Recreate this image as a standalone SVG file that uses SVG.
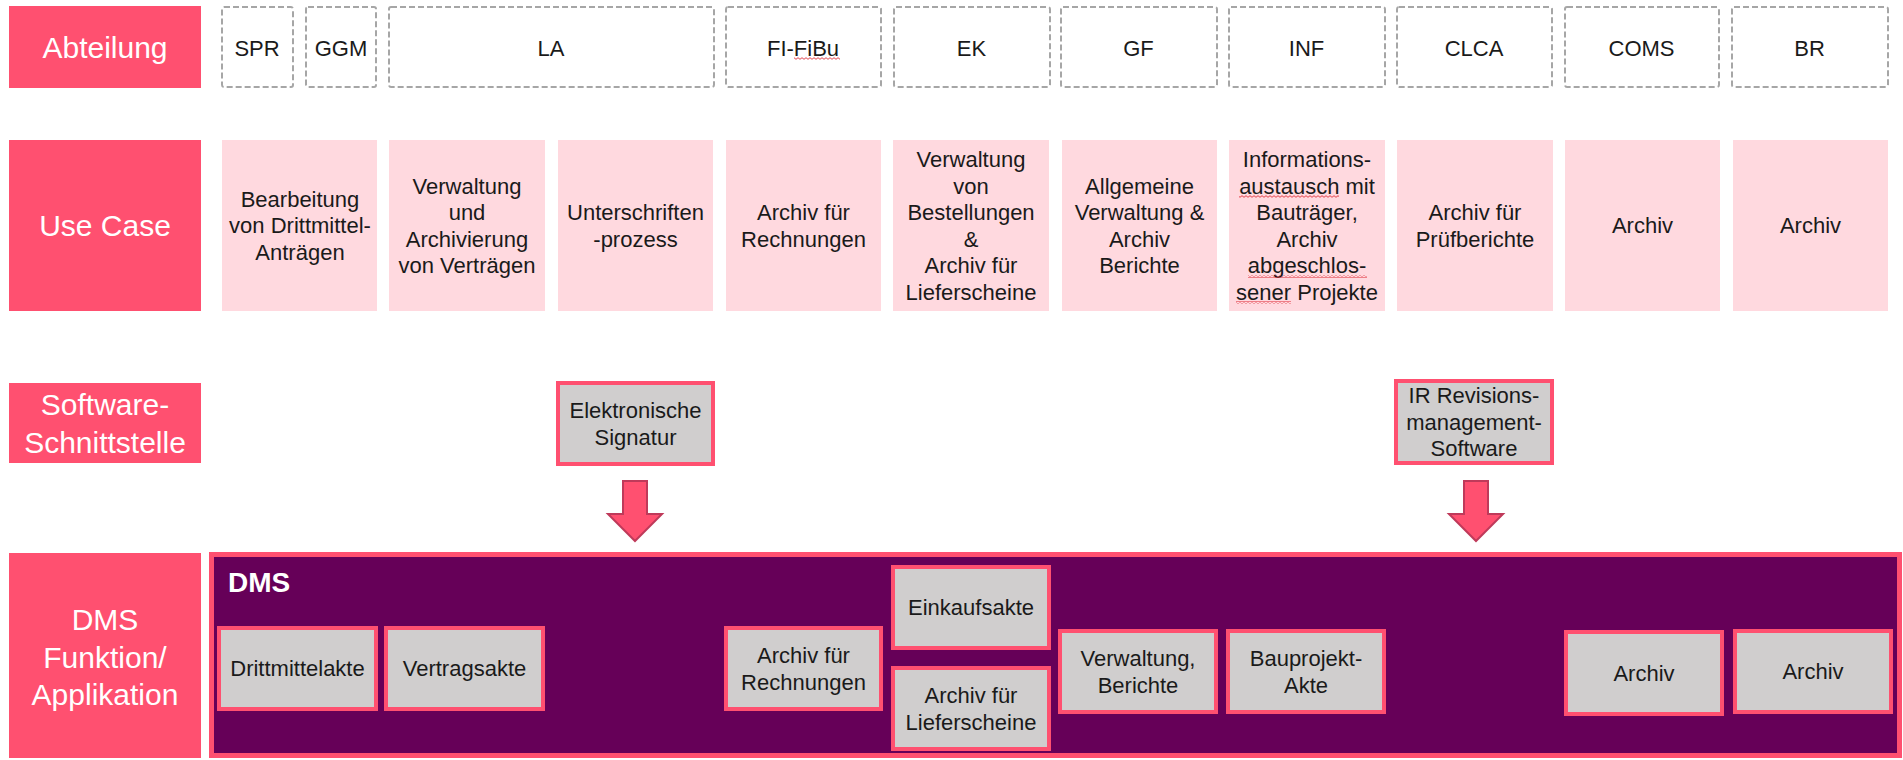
<svg xmlns="http://www.w3.org/2000/svg" width="1903" height="760" viewBox="0 0 1903 760">
<style>
text{font-family:"Liberation Sans",Arial,sans-serif}
.lbl{fill:#FF5070}
.lt{font-size:30px;fill:#fff;text-anchor:middle}
.dash{fill:#fff;stroke:#A6A6A6;stroke-width:2;stroke-dasharray:6 3}
.pk{fill:#FFD9DF}
.t{font-size:22px;fill:#1a1a1a;text-anchor:middle}
.box{fill:#D0CECE;stroke:#FF5070;stroke-width:4}
.dms{fill:#660058;stroke:#FF5070;stroke-width:5}
.dmst{font-size:28px;font-weight:bold;fill:#fff}
.arrow{fill:#FF5070;stroke:#BF3A5A;stroke-width:2}
.spell{fill:url(#wavy)}
</style>
<defs>
<pattern id="wavy" width="4" height="3" patternUnits="userSpaceOnUse"><path d="M0 2.3 L2 0.7 L4 2.3" fill="none" stroke="#E0303A" stroke-width="0.9"/></pattern>
</defs>
<rect width="1903" height="760" fill="#fff"/>

<g id="row-labels">
<g id="lbl-abteilung"><rect class="lbl" x="9" y="6" width="192" height="82"/><text class="lt" x="105" y="58">Abteilung</text></g>
<g id="lbl-usecase"><rect class="lbl" x="9" y="140" width="192" height="171"/><text class="lt" x="105" y="236">Use Case</text></g>
<g id="lbl-software"><rect class="lbl" x="9" y="383" width="192" height="80"/><text class="lt" x="105" y="415">Software-<tspan x="105" dy="38">Schnittstelle</tspan></text></g>
<g id="lbl-dms"><rect class="lbl" x="9" y="553" width="192" height="205"/><text class="lt" x="105" y="630">DMS<tspan x="105" dy="37.5">Funktion/</tspan><tspan x="105" dy="37.5">Applikation</tspan></text></g>
</g>

<g id="abteilungen">
<g id="abt-spr"><rect class="dash" x="222" y="7" width="71" height="80" rx="2"/><text class="t" x="257" y="56">SPR</text></g>
<g id="abt-ggm"><rect class="dash" x="306" y="7" width="70" height="80" rx="2"/><text class="t" x="341" y="56">GGM</text></g>
<g id="abt-la"><rect class="dash" x="389" y="7" width="325" height="80" rx="2"/><text class="t" x="551" y="56">LA</text></g>
<g id="abt-fi"><rect class="dash" x="726" y="7" width="155" height="80" rx="2"/><text class="t" x="803" y="56">FI-FiBu</text><rect class="spell" x="794" y="57" width="46" height="3"/></g>
<g id="abt-ek"><rect class="dash" x="894" y="7" width="156" height="80" rx="2"/><text class="t" x="971.5" y="56">EK</text></g>
<g id="abt-gf"><rect class="dash" x="1061" y="7" width="156" height="80" rx="2"/><text class="t" x="1138.5" y="56">GF</text></g>
<g id="abt-inf"><rect class="dash" x="1229" y="7" width="156" height="80" rx="2"/><text class="t" x="1306.5" y="56">INF</text></g>
<g id="abt-clca"><rect class="dash" x="1397" y="7" width="155" height="80" rx="2"/><text class="t" x="1474" y="56">CLCA</text></g>
<g id="abt-coms"><rect class="dash" x="1565" y="7" width="154" height="80" rx="2"/><text class="t" x="1641.5" y="56">COMS</text></g>
<g id="abt-br"><rect class="dash" x="1732" y="7" width="156" height="80" rx="2"/><text class="t" x="1809.5" y="56">BR</text></g>
</g>

<g id="usecases">
<g id="uc-1"><rect class="pk" x="222" y="140" width="155" height="171"/><text class="t" x="300" y="206.9">Bearbeitung<tspan x="300" dy="26.5">von Drittmittel-</tspan><tspan x="300" dy="26.5">Anträgen</tspan></text></g>
<g id="uc-2"><rect class="pk" x="389" y="140" width="156" height="171"/><text class="t" x="467" y="193.6">Verwaltung<tspan x="467" dy="26.5">und</tspan><tspan x="467" dy="26.5">Archivierung</tspan><tspan x="467" dy="26.5">von Verträgen</tspan></text></g>
<g id="uc-3"><rect class="pk" x="558" y="140" width="155" height="171"/><text class="t" x="635.5" y="220.1">Unterschriften<tspan x="635.5" dy="26.5">-prozess</tspan></text></g>
<g id="uc-4"><rect class="pk" x="726" y="140" width="155" height="171"/><text class="t" x="803.5" y="220.1">Archiv für<tspan x="803.5" dy="26.5">Rechnungen</tspan></text></g>
<g id="uc-5"><rect class="pk" x="893" y="140" width="156" height="171"/><text class="t" x="971" y="167.1">Verwaltung<tspan x="971" dy="26.5">von</tspan><tspan x="971" dy="26.5">Bestellungen</tspan><tspan x="971" dy="26.5">&amp;</tspan><tspan x="971" dy="26.5">Archiv für</tspan><tspan x="971" dy="26.5">Lieferscheine</tspan></text></g>
<g id="uc-6"><rect class="pk" x="1062" y="140" width="155" height="171"/><text class="t" x="1139.5" y="193.6">Allgemeine<tspan x="1139.5" dy="26.5">Verwaltung &amp;</tspan><tspan x="1139.5" dy="26.5">Archiv</tspan><tspan x="1139.5" dy="26.5">Berichte</tspan></text></g>
<g id="uc-7"><rect class="pk" x="1229" y="140" width="156" height="171"/><text class="t" x="1307" y="167.1">Informations-<tspan x="1307" dy="26.5">austausch mit</tspan><tspan x="1307" dy="26.5">Bauträger,</tspan><tspan x="1307" dy="26.5">Archiv</tspan><tspan x="1307" dy="26.5">abgeschlos-</tspan><tspan x="1307" dy="26.5">sener Projekte</tspan></text>
<rect class="spell" x="1239" y="195" width="100" height="3"/><rect class="spell" x="1248" y="275" width="119" height="3"/><rect class="spell" x="1236" y="301" width="55" height="3"/></g>
<g id="uc-8"><rect class="pk" x="1397" y="140" width="156" height="171"/><text class="t" x="1475" y="220.1">Archiv für<tspan x="1475" dy="26.5">Prüfberichte</tspan></text></g>
<g id="uc-9"><rect class="pk" x="1565" y="140" width="155" height="171"/><text class="t" x="1642.5" y="233.4">Archiv</text></g>
<g id="uc-10"><rect class="pk" x="1733" y="140" width="155" height="171"/><text class="t" x="1810.5" y="233.4">Archiv</text></g>
</g>

<g id="software">
<g id="sw-signatur"><rect class="box" x="558" y="383" width="155" height="81"/><text class="t" x="635.5" y="418.2">Elektronische<tspan x="635.5" dy="26.5">Signatur</tspan></text></g>
<g id="sw-ir"><rect class="box" x="1396" y="381" width="156" height="82"/><text class="t" x="1474" y="403.4">IR Revisions-<tspan x="1474" dy="26.5">management-</tspan><tspan x="1474" dy="26.5">Software</tspan></text></g>
</g>

<g id="dms">
<rect class="dms" x="211.5" y="554.5" width="1688" height="201"/>
<text class="dmst" x="228" y="592">DMS</text>
</g>

<g id="dms-nodes">
<g id="n-drittmittelakte"><rect class="box" x="219" y="628" width="157" height="81"/><text class="t" x="297.5" y="676.4">Drittmittelakte</text></g>
<g id="n-vertragsakte"><rect class="box" x="386" y="628" width="157" height="81"/><text class="t" x="464.5" y="676.4">Vertragsakte</text></g>
<g id="n-rechnungen"><rect class="box" x="726" y="628" width="155" height="81"/><text class="t" x="803.5" y="663.1">Archiv für<tspan x="803.5" dy="26.5">Rechnungen</tspan></text></g>
<g id="n-einkaufsakte"><rect class="box" x="893" y="567" width="156" height="81"/><text class="t" x="971" y="615.4">Einkaufsakte</text></g>
<g id="n-lieferscheine"><rect class="box" x="893" y="668" width="156" height="81"/><text class="t" x="971" y="703.2">Archiv für<tspan x="971" dy="26.5">Lieferscheine</tspan></text></g>
<g id="n-verwaltung"><rect class="box" x="1060" y="631" width="156" height="81"/><text class="t" x="1138" y="666.2">Verwaltung,<tspan x="1138" dy="26.5">Berichte</tspan></text></g>
<g id="n-bauprojekt"><rect class="box" x="1228" y="631" width="156" height="81"/><text class="t" x="1306" y="666.2">Bauprojekt-<tspan x="1306" dy="26.5">Akte</tspan></text></g>
<g id="n-archiv-coms"><rect class="box" x="1566" y="632" width="156" height="82"/><text class="t" x="1644" y="681">Archiv</text></g>
<g id="n-archiv-br"><rect class="box" x="1735" y="631" width="156" height="81"/><text class="t" x="1813" y="679.4">Archiv</text></g>
</g>

<g id="connectors">
<polygon class="arrow" points="623,481 647,481 647,514 662,514 635,541 608,514 623,514"/>
<polygon class="arrow" points="1464,481 1488,481 1488,514 1503,514 1476,541 1449,514 1464,514"/>
</g>
</svg>
